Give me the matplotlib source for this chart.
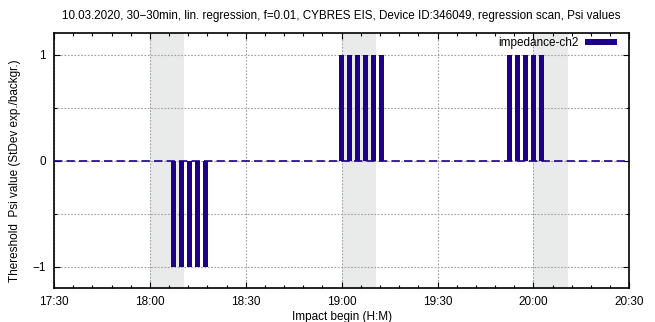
#!/usr/bin/env python3
import matplotlib
matplotlib.use("Agg")
import matplotlib.pyplot as plt
from matplotlib.ticker import MultipleLocator, FuncFormatter

# Impact intervals (start time, duration in minutes)
impact_starts = ["18:00", "19:00", "20:00"]
impact_minutes = 10.8

# Regression scan results (time of point, Psi value)
scan_times = [
    "18:07:30", "18:10:00", "18:12:30", "18:15:00", "18:17:30",
    "19:00:00", "19:02:30", "19:05:00", "19:07:30", "19:10:00", "19:12:30",
    "19:52:30", "19:55:00", "19:57:30", "20:00:00", "20:02:30",
]
psi_values = [-1, -1, -1, -1, -1,
              1, 1, 1, 1, 1, 1,
              1, 1, 1, 1, 1]

x_range = ("17:30", "20:30")
series_label = "impedance-ch2"
title = ("10.03.2020, 30\u221230min, lin. regression, f=0.01, CYBRES EIS, "
         "Device ID:346049, regression scan, Psi values")


def to_min(s):
    parts = [int(p) for p in s.split(":")]
    while len(parts) < 3:
        parts.append(0)
    return parts[0] * 60 + parts[1] + parts[2] / 60.0


def hm(v, pos=None):
    v = int(round(v))
    return f"{v // 60}:{v % 60:02d}"


def main():
    plt.rcParams["font.family"] = ["Liberation Sans", "DejaVu Sans"]
    plt.rcParams["font.size"] = 8.5
    plt.rcParams["axes.unicode_minus"] = True

    fig = plt.figure(figsize=(6.55, 3.22), dpi=100)
    ax = fig.add_axes([0.0824, 0.1056, 0.8784, 0.791])

    bar_color = "#1e0088"
    grid_color = "#a0a0a0"

    for s in impact_starts:
        t0 = to_min(s)
        ax.axvspan(t0, t0 + impact_minutes, color="#e9ebea", lw=0, zorder=0)

    x = [to_min(t) for t in scan_times]
    ax.bar(x, psi_values, width=1.55, color=bar_color, linewidth=0,
           label=series_label, zorder=3)

    ax.axhline(0, color=bar_color, lw=1.2, ls=(0, (5, 2.5)), zorder=4)

    ax.set_xlim(to_min(x_range[0]), to_min(x_range[1]))
    ax.set_ylim(-1.2, 1.2)

    ax.xaxis.set_major_locator(MultipleLocator(30))
    ax.xaxis.set_minor_locator(MultipleLocator(6))
    ax.xaxis.set_major_formatter(FuncFormatter(hm))
    ax.yaxis.set_major_locator(MultipleLocator(1))
    ax.yaxis.set_minor_locator(MultipleLocator(0.5))
    ax.yaxis.set_major_formatter(FuncFormatter(lambda v, p: f"{v:g}".replace("-", "\u2212")))

    ax.tick_params(which="both", direction="in", top=True, right=True,
                   width=0.8, color="black")
    ax.tick_params(which="major", length=4, pad=6)
    ax.tick_params(which="minor", length=2)

    ax.grid(True, which="major", axis="x", color=grid_color, ls=(0, (1.5, 1.5)), lw=0.8, zorder=1)
    ax.grid(True, which="both", axis="y", color=grid_color, ls=(0, (1.5, 1.5)), lw=0.8, zorder=1)
    ax.set_axisbelow(True)

    for sp in ax.spines.values():
        sp.set_linewidth(1.2)

    ax.set_xlabel("Impact begin (H:M)", labelpad=2)
    ax.set_ylabel("Thereshold  Psi value (StDev exp./backgr.)")
    ax.yaxis.set_label_coords(-0.058, 0.46)
    ax.set_title(title, fontsize=8.4, pad=10)

    ax.legend(loc="center right", bbox_to_anchor=(0.987, 0.961),
              frameon=False, markerfirst=False,
              handlelength=2.7, handleheight=0.5, borderaxespad=0,
              handletextpad=0.6)

    fig.savefig("out.png", dpi=100)


if __name__ == "__main__":
    main()
